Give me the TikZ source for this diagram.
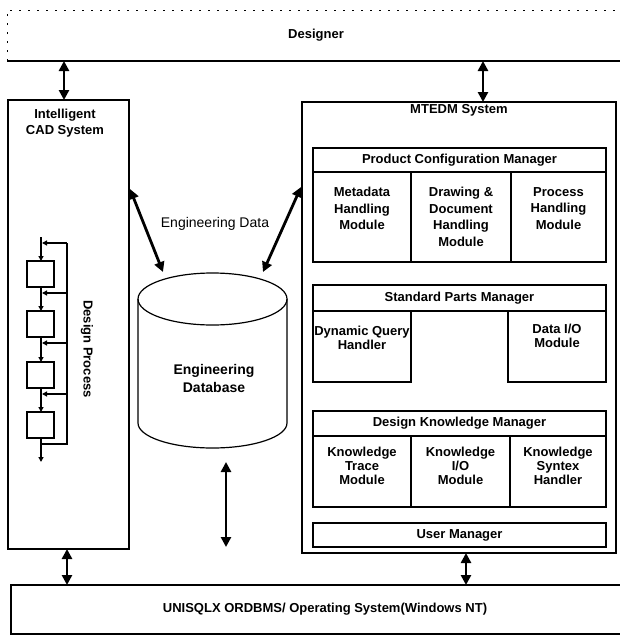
\documentclass[tikz,border=0pt]{standalone}
\usepackage{fontspec}
\setmainfont{Liberation Sans}
\usetikzlibrary{arrows.meta,calc}
\begin{document}
\begin{tikzpicture}[x=1pt,y=-1pt,
  blk/.style={draw, line width=1.1pt, inner sep=0pt, outer sep=0pt, anchor=north west},
  txt/.style={font=\fontsize{13}{16}\bfseries\selectfont, align=center, inner sep=0pt},
  cell/.style={font=\fontsize{13}{16.5}\bfseries\selectfont, align=center, inner sep=0pt, anchor=north},
  cellb/.style={font=\fontsize{13}{14}\bfseries\selectfont, align=center, inner sep=0pt, anchor=north},
  dar/.style={line width=2.8pt, {Triangle[length=10pt,width=10pt]}-{Triangle[length=10pt,width=10pt]}},
  sm/.style={line width=1.3pt, -{Triangle[length=5pt,width=5pt]}},
  fbl/.style={line width=1.3pt},
  pbox/.style={draw, line width=1.3pt, inner sep=0pt, outer sep=0pt, minimum width=27pt, minimum height=26pt, anchor=north west}
]
\useasboundingbox (0,0) rectangle (619,637);

% Designer
\node[inner sep=0pt, outer sep=0pt, anchor=north west, minimum width=618pt, minimum height=51pt, font=\fontsize{13}{16}\bfseries\selectfont] (designer) at (7,10) {Designer};
\draw[line width=1.1pt] (designer.south west) -- (designer.south east);
\draw[line width=0.8pt, dash pattern=on 2pt off 7pt] (designer.south west) -- (designer.north west) -- (designer.north east);

% Intelligent CAD System
\node[blk, minimum width=121pt, minimum height=449pt] (cad) at (8,100) {};
\node[txt] (cadt) at (65,123.5) {Intelligent\\CAD System};

% design process
\coordinate (ps) at (41,237);
\node[pbox] (p1) at (27,261) {};
\node[pbox] (p2) at (27,311) {};
\node[pbox] (p3) at (27,362) {};
\node[pbox] (p4) at (27,412) {};
\coordinate (pe) at (41,462);
\draw[sm] (ps) -- (ps |- p1.north);
\draw[sm] (ps |- p1.south) -- (ps |- p2.north);
\draw[sm] (ps |- p2.south) -- (ps |- p3.north);
\draw[sm] (ps |- p3.south) -- (ps |- p4.north);
\draw[sm] (ps |- p4.south) -- (pe);
\coordinate (fb0) at (41,444);
\coordinate (fbc) at (67,444);
\coordinate (fbt) at (67,243);
\draw[fbl] (fb0) -- (fbc) -- (fbt);
\draw[sm] (fbt) -- (42,243);
\draw[sm] (67,293) -- (42,293);
\draw[sm] (67,343) -- (42,343);
\draw[sm] (67,394) -- (42,394);
\node[txt, rotate=-90] (dp) at (87,349) {Design Process};

% MTEDM System
\node[blk, minimum width=314pt, minimum height=451pt] (mtedm) at (302,102) {};
\node[txt] (mtedmt) at (459,110) {MTEDM System};

% Product Configuration Manager
\node[blk, minimum width=293pt, minimum height=24pt, txt] (pcm) at (313,148) {Product Configuration Manager};
\node[blk, minimum width=98pt, minimum height=90pt] (pc1) at (313,172) {};
\node[blk, minimum width=100pt, minimum height=90pt] (pc2) at (411,172) {};
\node[blk, minimum width=95pt, minimum height=90pt] (pc3) at (511,172) {};
\node[cell] (pc1t) at (362,187) {Metadata\\Handling\\Module};
\node[cell] (pc2t) at (461,187) {Drawing \&\\Document\\Handling\\Module};
\node[cell] (pc3t) at (558.5,187) {Process\\Handling\\Module};

% Standard Parts Manager
\node[blk, minimum width=293pt, minimum height=26pt, txt] (spm) at (313,285) {Standard Parts Manager};
\node[blk, minimum width=98pt, minimum height=71pt] (sp1) at (313,311) {};
\node[blk, minimum width=98pt, minimum height=71pt] (sp2) at (508,311) {};
\node[cellb] (sp1t) at (362,326) {Dynamic Query\\Handler};
\node[cellb] (sp2t) at (557,324) {Data I/O\\Module};

% Design Knowledge Manager
\node[blk, minimum width=293pt, minimum height=25pt, txt] (dkm) at (313,411) {Design Knowledge Manager};
\node[blk, minimum width=98pt, minimum height=71pt] (dk1) at (313,436) {};
\node[blk, minimum width=99pt, minimum height=71pt] (dk2) at (411,436) {};
\node[blk, minimum width=96pt, minimum height=71pt] (dk3) at (510,436) {};
\node[cellb] (dk1t) at (362,447) {Knowledge\\Trace\\Module};
\node[cellb] (dk2t) at (460.5,447) {Knowledge\\I/O\\Module};
\node[cellb] (dk3t) at (558,447) {Knowledge\\Syntex\\Handler};

% User Manager
\node[blk, minimum width=293pt, minimum height=24pt, txt] (um) at (313,523) {User Manager};

% OS
\node[blk, minimum width=628pt, minimum height=49pt, txt] (os) at (11,585) {UNISQLX ORDBMS/ Operating System(Windows NT)};

% Engineering database cylinder
\draw[line width=1.2pt, fill=white] (138,299) -- (138,423) arc[start angle=180, end angle=360, x radius=74.5pt, y radius=25pt] -- (287,299);
\draw[line width=1.2pt] (212.5,299) ellipse[x radius=74.5pt, y radius=26pt];
\node[font=\fontsize{14}{18}\bfseries\selectfont, align=center, inner sep=0pt] (db) at (214,378) {Engineering\\Database};
\node[font=\fontsize{14}{17}\selectfont, inner sep=0pt] (ed) at (215,224) {Engineering Data};

% arrows
\draw[dar] ([xshift=-4.5pt]cad.north) -- ([xshift=-4.5pt]cad.north |- designer.south);
\draw[dar] ([xshift=24pt]mtedm.north) -- ([xshift=24pt]mtedm.north |- designer.south);
\draw[dar] ([xshift=-1.5pt]cad.south) -- ([xshift=-1.5pt]cad.south |- os.north);
\draw[dar] ([xshift=7pt]mtedm.south) -- ([xshift=7pt]mtedm.south |- os.north);
\coordinate (dbA) at (226,462);
\coordinate (dbB) at (226,547);
\draw[dar] (dbA) -- (dbB);
\coordinate (el1) at (130,189);
\coordinate (el2) at (163,272);
\coordinate (er1) at (263,272);
\coordinate (er2) at (301,187);
\draw[dar] (el1) -- (el2);
\draw[dar] (er1) -- (er2);
\end{tikzpicture}
\end{document}
